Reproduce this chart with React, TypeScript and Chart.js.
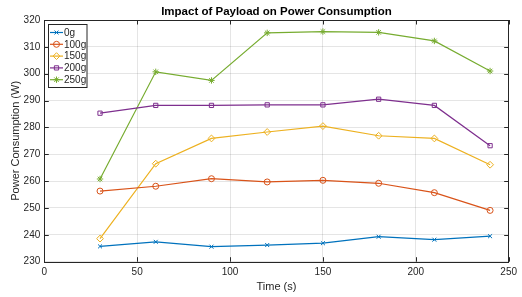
import React, { useEffect, useRef } from "react";
import { Chart, registerables } from "chart.js";
import { drawPoint } from "chart.js/helpers";

Chart.register(...registerables);

const times = [30, 60, 90, 120, 150, 180, 210, 240];
const p0g = [235.7, 237.4, 235.6, 236.2, 236.9, 239.3, 238.2, 239.5];
const p100g = [256.3, 258.1, 260.9, 259.7, 260.3, 259.2, 255.7, 249.1];
const p150g = [238.6, 266.5, 275.9, 278.3, 280.5, 276.9, 275.9, 266.1];
const p200g = [285.3, 288.2, 288.2, 288.4, 288.4, 290.5, 288.2, 273.2];
const p250g = [260.8, 300.7, 297.5, 315.2, 315.7, 315.4, 312.2, 301.0];

const seriesNames = ["0g", "100g", "150g", "200g", "250g"];
const seriesColors = ["#0072BD", "#D95319", "#EDB120", "#7E2F8E", "#77AC30"];
const seriesMarkers = ["crossRot", "circle", "rectRot", "rect", "star"];
const seriesRadius = [2.8, 3, 3.4, 3, 3.2];

const title = "Impact of Payload on Power Consumption";
const xTitle = "Time (s)";
const yTitle = "Power Consumption (W)";

const FONT = "'Liberation Sans', Arial, Helvetica, sans-serif";
const AX = "#262626";

const boxPlugin = {
  id: "matlabBox",
  afterDraw(chart: any) {
    const { ctx, chartArea } = chart;
    const { left, right, top, bottom } = chartArea;
    const xs = chart.scales.x;
    const ys = chart.scales.y;
    ctx.save();
    ctx.strokeStyle = AX;
    ctx.lineWidth = 1;
    ctx.strokeRect(Math.round(left) + 0.5, Math.round(top) + 0.5, Math.round(right - left), Math.round(bottom - top));
    const tl = 4.5;
    ctx.beginPath();
    xs.ticks.forEach((t: any) => {
      const px = Math.round(xs.getPixelForValue(t.value)) + 0.5;
      ctx.moveTo(px, bottom);
      ctx.lineTo(px, bottom - tl);
      ctx.moveTo(px, top);
      ctx.lineTo(px, top + tl);
    });
    ys.ticks.forEach((t: any) => {
      const py = Math.round(ys.getPixelForValue(t.value)) + 0.5;
      ctx.moveTo(left, py);
      ctx.lineTo(left + tl, py);
      ctx.moveTo(right, py);
      ctx.lineTo(right - tl, py);
    });
    ctx.stroke();

    // title
    const cx = (left + right) / 2;
    ctx.fillStyle = "#000";
    ctx.font = `bold 11.5px ${FONT}`;
    ctx.textAlign = "center";
    ctx.textBaseline = "middle";
    ctx.fillText(title, cx, 12);

    // axis titles
    ctx.fillStyle = AX;
    ctx.font = `11px ${FONT}`;
    ctx.fillText(xTitle, cx, 287);
    ctx.save();
    ctx.translate(15.5, (top + bottom) / 2);
    ctx.rotate(-Math.PI / 2);
    ctx.fillText(yTitle, 0, 0);
    ctx.restore();

    // legend
    const lx = 48.5, ly = 24.5, lw = 38.5, lh = 63;
    ctx.fillStyle = "#fff";
    ctx.fillRect(lx, ly, lw, lh);
    ctx.strokeStyle = AX;
    ctx.lineWidth = 1;
    ctx.strokeRect(lx, ly, lw, lh);
    ctx.font = `10px ${FONT}`;
    ctx.textAlign = "left";
    ctx.textBaseline = "middle";
    seriesNames.forEach((name, i) => {
      const yy = 32.5 + i * 11.8;
      ctx.strokeStyle = seriesColors[i];
      ctx.lineWidth = 1.2;
      ctx.beginPath();
      ctx.moveTo(50, yy);
      ctx.lineTo(63, yy);
      ctx.stroke();
      ctx.lineWidth = 1;
      ctx.fillStyle = "rgba(0,0,0,0)";
      ctx.strokeStyle = seriesColors[i];
      drawPoint(ctx, { pointStyle: seriesMarkers[i], radius: seriesRadius[i], rotation: 0, borderWidth: 1 } as any, 56.5, yy);
      ctx.fillStyle = AX;
      ctx.fillText(name, 64, yy + 0.5);
    });
    ctx.restore();
  },
};

const bgPlugin = {
  id: "whiteBg",
  beforeDraw(chart: any) {
    const { ctx, width, height } = chart;
    ctx.save();
    ctx.fillStyle = "#fff";
    ctx.fillRect(0, 0, width, height);
    ctx.restore();
  },
};

export default function App() {
  const ref = useRef<HTMLCanvasElement | null>(null);
  useEffect(() => {
    if (!ref.current) return;
    const allSeries = [p0g, p100g, p150g, p200g, p250g];
    const chart = new Chart(ref.current, {
      type: "line",
      data: {
        datasets: allSeries.map((s, i) => ({
          label: seriesNames[i],
          data: s.map((v, j) => ({ x: times[j], y: v })),
          borderColor: seriesColors[i],
          backgroundColor: "transparent",
          pointBackgroundColor: "transparent",
          pointBorderColor: seriesColors[i],
          pointStyle: seriesMarkers[i] as any,
          pointRadius: seriesRadius[i],
          pointBorderWidth: 1,
          borderWidth: 1.2,
          tension: 0,
          fill: false,
        })),
      },
      options: {
        responsive: false,
        animation: false,
        layout: { padding: { top: 20, right: 8, left: 0, bottom: 0 } },
        plugins: {
          legend: { display: false },
          title: { display: false },
          tooltip: { enabled: false },
        },
        scales: {
          x: {
            type: "linear",
            min: 0,
            max: 250,
            ticks: { stepSize: 50, color: AX, font: { family: FONT, size: 10 }, padding: 5, maxRotation: 0 },
            grid: { color: "rgba(38,38,38,0.12)", drawTicks: false },
            border: { display: false },
            afterFit: (s: any) => { s.height = 35.3; },
          },
          y: {
            type: "linear",
            min: 230,
            max: 320,
            ticks: { stepSize: 10, color: AX, font: { family: FONT, size: 10 }, padding: 4 },
            grid: { color: "rgba(38,38,38,0.12)", drawTicks: false },
            border: { display: false },
            afterFit: (s: any) => { s.width = 44.3; },
          },
        },
      },
      plugins: [bgPlugin, boxPlugin],
    });
    return () => chart.destroy();
  }, []);
  return (
    <canvas
      ref={ref}
      width={522}
      height={297}
      style={{ position: "absolute", left: 0, top: 0, width: 522, height: 297 }}
    />
  );
}
